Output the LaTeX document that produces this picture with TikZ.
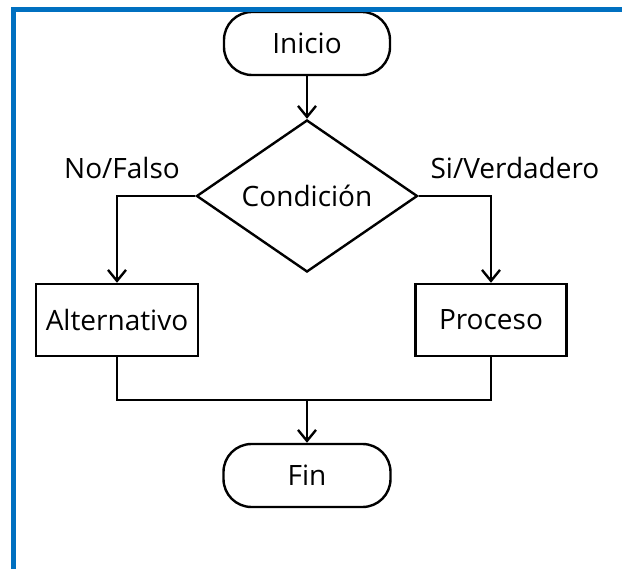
\documentclass[tikz,border=0pt]{standalone}
\usepackage{fontspec}
\setmainfont{Open Sans}
\usetikzlibrary{arrows.meta, shapes.geometric}
\definecolor{marco}{HTML}{0070C0}
\tikzset{
        >={Straight Barb[length=11pt,width=18pt]}, % open arrow heads
        every node/.style={font=\fontsize{28}{32}\selectfont},
        terminal/.style={draw, rectangle, rounded corners=28pt, line width=2.4pt, minimum width=166pt, minimum height=63pt},
        decision/.style={draw, diamond, aspect=1.45, inner sep=0pt, line width=2.4pt, minimum width=221pt, minimum height=152pt},
        caja/.style={draw, rectangle, line width=2.4pt, minimum height=72pt},
        linea/.style={line width=2.4pt},
        flecha/.style={->, line width=2.4pt},
    }
\begin{document}
\begin{tikzpicture}[x=1pt, y=-1pt]
    \useasboundingbox (0,0) rectangle (622,569);
    \node[terminal] (inicio) at (307,43.5) {Inicio};
    \node[decision] (cond) at (307,196) {Condición};
    \node[caja, minimum width=162pt] (alt) at (117,320) {Alternativo};
    \node[caja, minimum width=151pt] (proc) at (491,320) {Proceso};
    \node[terminal, minimum width=167pt] (fin) at (307,475.5) {Fin};
    \node (no) at (122,168) {No/Falso};
    \node (si) at (515,168) {Si/Verdadero};
    \coordinate (union) at (307,400);
    % connectors
    \draw[flecha] (inicio) -- (cond);
    \draw[flecha] (cond.west) -| (alt.north);
    \draw[flecha] (cond.east) -| (proc.north);
    \draw[linea] (alt.south) |- (union) -| (proc.south);
    \draw[flecha] (union) -- (fin);
    % blue frame
    \draw[marco, line width=5pt] (13,569) -- (13,9.5) -- (622,9.5);
\end{tikzpicture}
\end{document}
